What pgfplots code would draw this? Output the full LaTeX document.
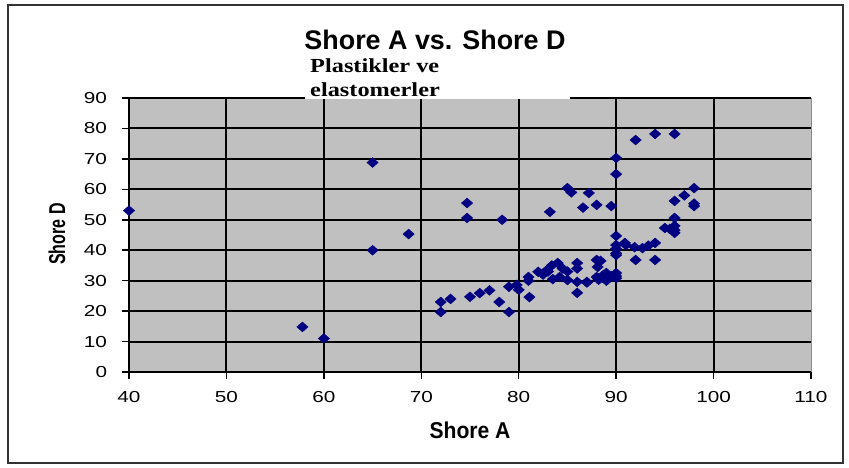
\documentclass[border=0pt]{standalone}
\usepackage{pgfplots}
\pgfplotsset{compat=1.18}
\usepackage{fontspec}
\setmainfont{Liberation Sans}
\newfontfamily\serifb{Liberation Serif}
\definecolor{navy}{RGB}{0,0,128}
\definecolor{plotgray}{RGB}{192,192,192}
\begin{document}
\begin{tikzpicture}
\useasboundingbox (0,0) rectangle (849bp,468bp);
\fill[white] (0,0) rectangle (849bp,468bp);
\draw[line width=1.8bp, black!80] (8bp,5bp) rectangle (843bp,463bp);
\begin{axis}[
  at={(129bp,96bp)}, anchor=south west,
  width=682bp, height=274bp, scale only axis,
  xmin=40, xmax=110, ymin=0, ymax=90,
  xtick={40,50,...,100}, extra x ticks={110}, extra x tick style={grid=none},
  ytick={0,10,...,90},
  axis x line*=bottom, axis y line*=left,
  axis line style={black, line width=1.6bp, -},
  axis background/.style={fill=plotgray, draw=black!45, line width=1bp},
  grid=major,
  major grid style={black, line width=2bp},
  tick align=outside, major tick length=7bp,
  tick style={black, line width=1.5bp},
  /pgf/number format/assume math mode=true,
  tick label style={font=\fontsize{16}{16}\selectfont, xscale=1.3},
  x tick label style={yshift=-9bp},
  y tick label style={xshift=-8bp},
  clip=false,
]
\addplot[only marks, mark=diamond*, mark size=5.2bp, color=navy,
  mark options={xscale=1.45, yscale=0.95, fill=navy, draw=navy}] coordinates {
(40,53) (57.8,14.8) (60,11) (65,68.8) (65,40) (68.7,45.3)
(74.7,55.5) (74.7,50.6) (78.3,50)
(72,23) (73,24) (72,19.7) (75,24.7) (76,25.9) (77,26.8) (78,23) (79,19.7)
(79,28) (79.8,28.6) (80,27) (81,31.2) (81.1,24.6) (81,30)
(82,32.9) (82.9,33.5) (83.4,35) (84,35.8) (84.5,34) (85,30.2) (83.5,30.5)
(84.2,31.2) (86,35.8) (86,34) (86,26) (86,29.6) (87,29.4)
(88,36.8) (88.1,34.5) (88,31.2) (88.6,30.9) (89,32.5) (89.3,30.9)
(88.7,31.9) (88.2,30.3) (89,30) (90,31.5) (90,32.5) (90,30.8)
(90,38.4) (90,41.7) (90,44.7) (90.9,42.4) (91.9,41) (92.7,40.7) (94,42.4)
(93.3,41.5) (92,36.8) (94,36.8) (88.4,36.5)
(83.2,52.6) (85,60.4) (85.4,59) (87.2,58.8) (86.6,54) (88,54.9) (89.5,54.5)
(90,70.3) (90,65) (92,76.2) (94,78.2) (96,78.2)
(96,56.2) (97,58) (98,60.4) (98,54.5) (98,55.3)
(95,47.3) (96,46.6) (96,48) (96,45.7) (96,50.6) (95.5,47)
(82.5,32) (83,33) (85,33) (87,29.6) (89.5,31.5) (90,39) (90,40.5) (91,41.7)
};
\end{axis}
% white box behind the annotation
\fill[white] (305bp,368.5bp) rectangle (570bp,408bp);
\node[anchor=base west, inner sep=0pt, xscale=1.22, font=\serifb\bfseries\fontsize{20}{24}\selectfont] at (310bp,395bp) {Plastikler ve};
\node[anchor=base west, inner sep=0pt, xscale=1.22, font=\serifb\bfseries\fontsize{20}{24}\selectfont] at (310bp,371bp) {elastomerler};
% title
\node[font=\bfseries\fontsize{27}{32}\selectfont, inner sep=0pt] at (435bp,428bp) {Shore A vs. Shore D};
% axis labels
\node[font=\bfseries\fontsize{23}{26}\selectfont, inner sep=0pt, xscale=0.92] at (470bp,38bp) {Shore A};
\node[font=\bfseries\fontsize{23}{26}\selectfont, inner sep=0pt, rotate=90, xscale=0.7] at (57bp,234bp) {Shore D};
\end{tikzpicture}
\end{document}
